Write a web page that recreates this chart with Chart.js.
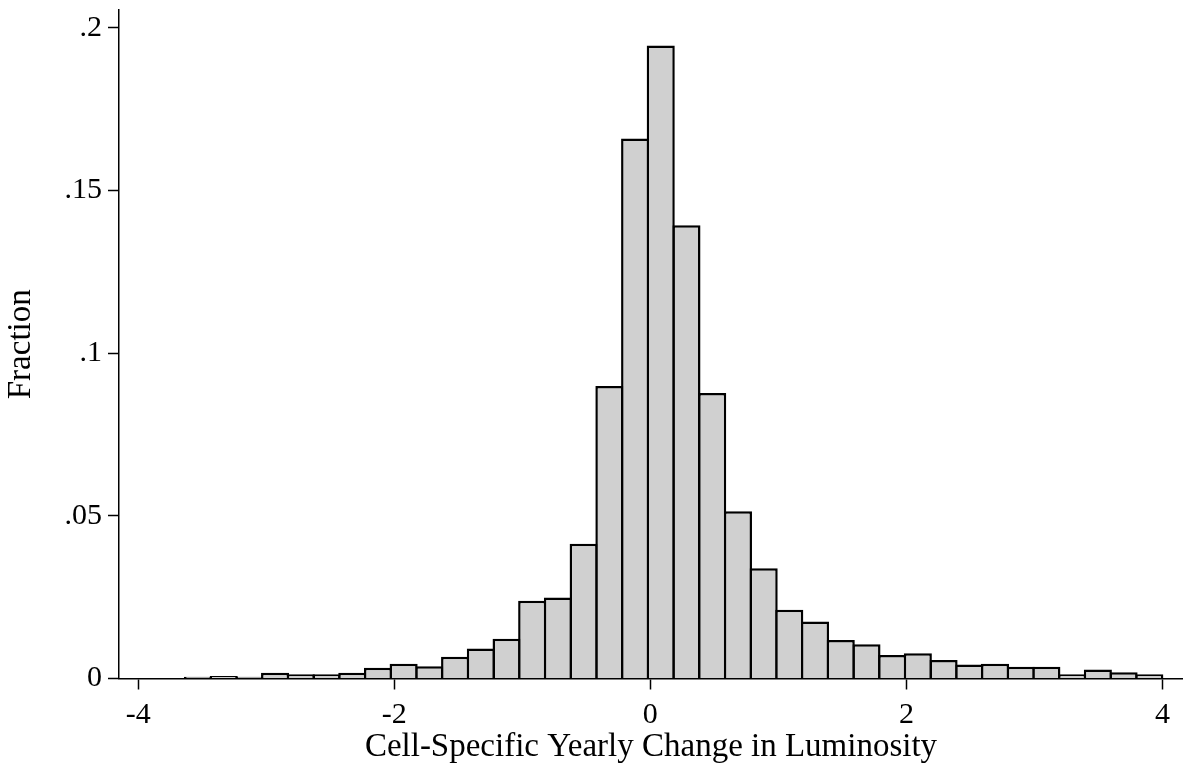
<!DOCTYPE html>
<html>
<head>
<meta charset="utf-8">
<script src="https://cdn.jsdelivr.net/npm/chart.js@4.4.0/dist/chart.umd.min.js"></script>
<style>
  body { margin: 0; background: #fff; }
</style>
</head>
<body>
<canvas id="histChart" width="1183" height="773"></canvas>
<script>
// bin midpoints (width ~0.2, first bin starts near -3.63)
const binCenters = [
  -3.533, -3.332, -3.131, -2.931, -2.730, -2.529, -2.328, -2.127, -1.927, -1.726,
  -1.525, -1.324, -1.123, -0.923, -0.722, -0.521, -0.320, -0.119, 0.081, 0.282,
  0.483, 0.684, 0.885, 1.085, 1.286, 1.487, 1.688, 1.889, 2.089, 2.290,
  2.491, 2.692, 2.893, 3.093, 3.294, 3.495, 3.696, 3.897
];
const fractions = [
  0.0005, 0.0008, 0.0005, 0.0018, 0.0013, 0.0013, 0.0018, 0.0033, 0.0045, 0.0038,
  0.0067, 0.0092, 0.0122, 0.0239, 0.0249, 0.0414, 0.0899, 0.1660, 0.1946, 0.1393,
  0.0878, 0.0514, 0.0339, 0.0211, 0.0175, 0.0118, 0.0105, 0.0072, 0.0078, 0.0057,
  0.0043, 0.0045, 0.0036, 0.0036, 0.0013, 0.0028, 0.0019, 0.0013
];
const xTickValues = [-4, -2, 0, 2, 4];
const yTickValues = [0, 0.05, 0.1, 0.15, 0.2];
const yTickLabels = ['0', '.05', '.1', '.15', '.2'];

const serif = 'Liberation Serif, "Times New Roman", serif';

const ctx = document.getElementById('histChart').getContext('2d');

new Chart(ctx, {
    type: 'bar',
    data: {
        datasets: [{
            label: 'Fraction',
            data: binCenters.map((x, i) => ({ x: x, y: fractions[i] })),
            backgroundColor: '#d0d0d0',
            borderColor: '#000000',
            borderWidth: 2.5,
            barPercentage: 1.097,
            categoryPercentage: 1,
        }]
    },
    options: {
        responsive: false,
        animation: false,
        layout: {
            padding: { top: 10, right: 0, bottom: 0, left: 0 }
        },
        scales: {
            x: {
                type: 'linear',
                min: -4.15,
                max: 4.16,
                offset: false,
                afterBuildTicks: function (scale) {
                    scale.ticks = xTickValues.map(v => ({ value: v }));
                },
                afterFit: function (scale) {
                    scale.height = 94.5;
                    scale.paddingLeft = 0;
                    scale.paddingRight = 0;
                },
                grid: {
                    offset: false,
                    drawOnChartArea: false,
                    drawTicks: true,
                    tickLength: 11,
                    tickColor: '#000',
                    tickWidth: 1.5
                },
                border: {
                    display: true,
                    color: '#000',
                    width: 1.5
                },
                ticks: {
                    color: '#000',
                    font: { family: serif, size: 30 },
                    padding: 8,
                    maxRotation: 0,
                    autoSkip: false,
                    callback: v => String(v)
                },
                title: {
                    display: true,
                    text: 'Cell-Specific Yearly Change in Luminosity',
                    color: '#000',
                    font: { family: serif, size: 33 },
                    padding: { top: 0, bottom: 6 }
                }
            },
            y: {
                min: 0,
                max: 0.2055,
                afterBuildTicks: function (scale) {
                    scale.ticks = yTickValues.map(v => ({ value: v }));
                },
                afterFit: function (scale) {
                    scale.width = 119;
                    scale.paddingTop = 0;
                    scale.paddingBottom = 0;
                },
                grid: {
                    drawOnChartArea: false,
                    drawTicks: true,
                    tickLength: 11,
                    tickColor: '#000',
                    tickWidth: 1.5
                },
                border: {
                    display: true,
                    color: '#000',
                    width: 1.5
                },
                ticks: {
                    color: '#000',
                    font: { family: serif, size: 30 },
                    padding: 6,
                    autoSkip: false,
                    callback: function (value) {
                        const i = yTickValues.indexOf(value);
                        return i >= 0 ? yTickLabels[i] : '';
                    }
                },
                title: {
                    display: true,
                    text: 'Fraction',
                    color: '#000',
                    font: { family: serif, size: 33 },
                    padding: { top: 2, bottom: 0 }
                }
            }
        },
        plugins: {
            legend: { display: false },
            tooltip: { enabled: false }
        }
    }
});
</script>
</body>
</html>
